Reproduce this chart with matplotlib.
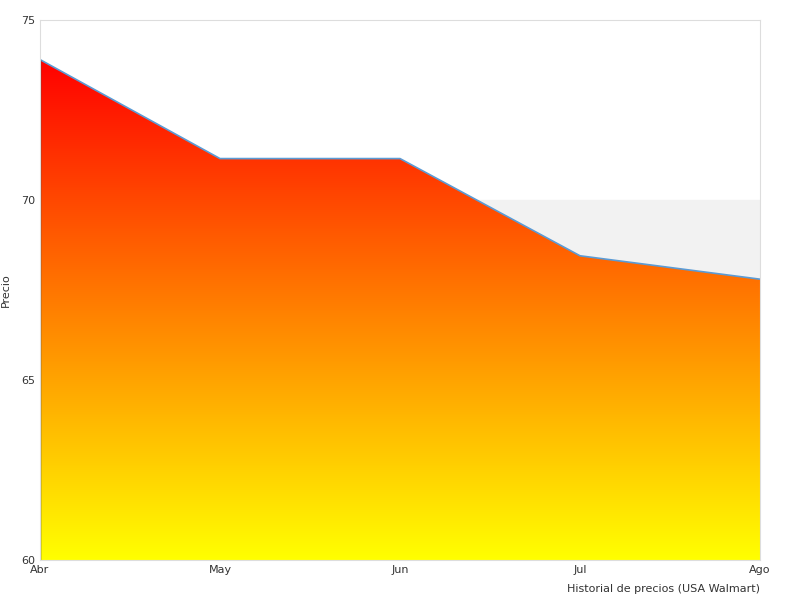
import numpy as np
import matplotlib.pyplot as plt
from matplotlib.colors import LinearSegmentedColormap
from matplotlib.patches import Polygon

months = ['Abr', 'May', 'Jun', 'Jul', 'Ago']
precios = [73.9, 71.15, 71.15, 68.45, 67.8]

fig = plt.figure(figsize=(8, 6), dpi=100)
ax = fig.add_axes([0.05, 0.0667, 0.9, 0.9])
x = np.arange(len(months))

ax.axhspan(65, 70, color='#f2f2f2', zorder=0)

cmap = LinearSegmentedColormap.from_list('ry', ['#ffff00', '#ff8000', '#ff0000'])
grad = np.linspace(0, 1, 256).reshape(-1, 1)
im = ax.imshow(grad, cmap=cmap, aspect='auto', origin='lower',
               extent=[x[0], x[-1], 60, max(precios)], zorder=1)
verts = [(x[0], 60)] + list(zip(x, precios)) + [(x[-1], 60)]
poly = Polygon(verts, closed=True, facecolor='none', edgecolor='none')
ax.add_patch(poly)
im.set_clip_path(poly)
ax.plot(x, precios, color='#5b9bd5', lw=1.2, zorder=2)
ax.plot([x[0], x[0]], [60, precios[0]], color='#333333', lw=1, zorder=2)

ax.set_xlim(x[0], x[-1])
ax.set_ylim(60, 75)
ax.set_xticks(x)
ax.set_xticklabels(months)
ax.set_yticks([60, 65, 70, 75])
ax.tick_params(length=0, labelsize=8, colors='#333333')
for s in ax.spines.values():
    s.set_color('#dddddd')
ax.set_ylabel('Precio', fontsize=8, color='#333333')
ax.yaxis.set_label_coords(-0.04, 0.5)
ax.set_xlabel('Historial de precios (USA Walmart)', fontsize=8, color='#333333')
ax.xaxis.set_label_coords(1.0, -0.045)
ax.xaxis.label.set_ha('right')
fig.savefig('out.png')
